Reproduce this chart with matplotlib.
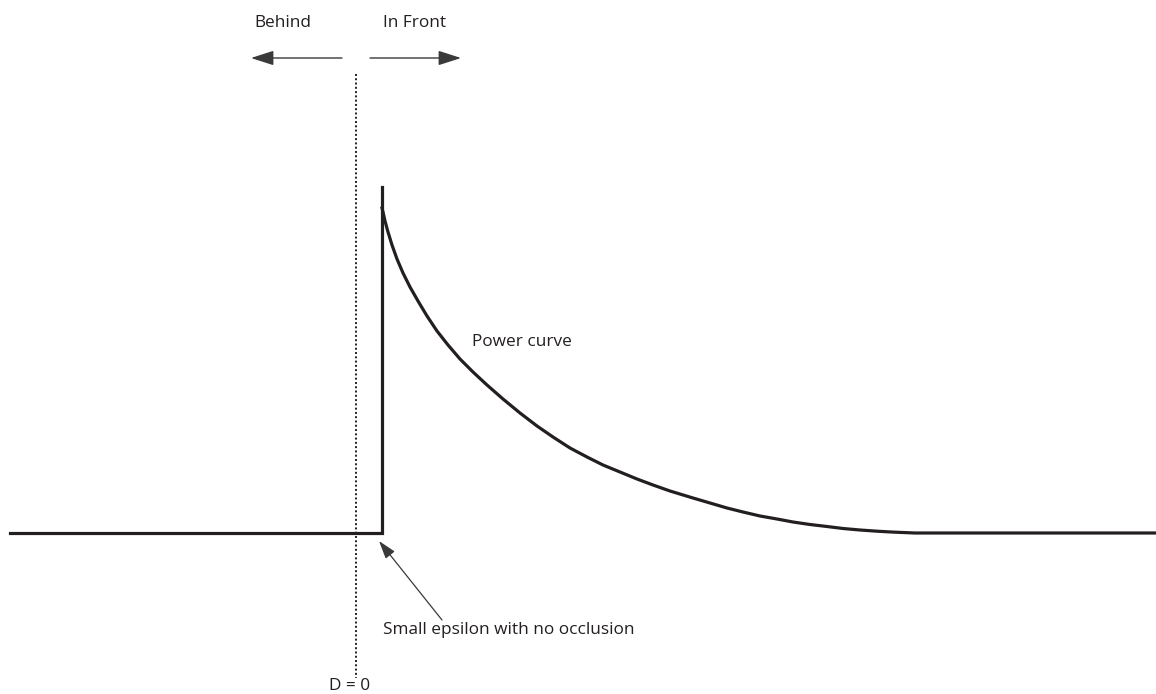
import matplotlib
matplotlib.use('Agg')
import matplotlib.pyplot as plt
from matplotlib.patches import FancyArrowPatch

# coordinates (pixel space, y down)
base_x = [10, 382]
base_y = [533, 533]
step_x = [382, 382]
step_y = [533, 187]
curve_x = [382, 383, 385, 388, 392, 397, 403, 410, 418, 427, 437, 448, 460, 473, 487,
           503, 520, 537, 553, 570, 587, 603, 620, 637, 653, 670, 693, 710, 727, 743,
           760, 777, 793, 810, 827, 843, 860, 877, 893, 915, 1156]
curve_y = [208, 212, 221, 232, 245, 259, 273, 287, 301, 316, 331, 345, 359, 372, 385,
           399, 413, 426, 437, 448, 457, 465, 472, 479, 485, 491, 498, 503, 508, 512,
           516, 519, 522, 524.5, 526.5, 528.5, 530, 531.2, 532.1, 533, 533]
d0_x = 356
d0_y = [74, 678]

plt.rcParams['font.family'] = ['Open Sans', 'DejaVu Sans']

fig = plt.figure(figsize=(11.56, 6.94), dpi=100)
ax = fig.add_axes([0, 0, 1, 1])
ax.set_xlim(0, 1156)
ax.set_ylim(694, 0)
ax.axis('off')

col = '#231f20'
lw = 2.3
ax.plot(base_x + step_x[1:], base_y + step_y[1:], color=col, lw=lw, solid_joinstyle='miter')
ax.plot(curve_x, curve_y, color=col, lw=lw, solid_joinstyle='round')
ax.plot([d0_x, d0_x], d0_y, color=col, lw=1.4, ls=(0, (1, 1.2)))

# direction arrows
for x0, x1 in [(342, 251), (370, 461)]:
    ax.add_patch(FancyArrowPatch((x0, 58), (x1, 58), arrowstyle='-|>,head_length=14,head_width=4.5',
                                 color='#3a3a3a', lw=1.0, mutation_scale=1.0, shrinkA=0, shrinkB=0))

fs = 12.4
ax.text(283, 23, 'Behind', ha='center', va='center', fontsize=fs, color=col)
ax.text(415, 23, 'In Front', ha='center', va='center', fontsize=fs, color=col)
ax.text(472, 342, 'Power curve', ha='left', va='center', fontsize=fs, color=col)
ax.text(383, 630, 'Small epsilon with no occlusion', ha='left', va='center', fontsize=fs, color=col)
ax.text(350, 686, 'D = 0', ha='center', va='center', fontsize=fs, color=col)

ax.add_patch(FancyArrowPatch((442, 620), (379, 541), arrowstyle='-|>,head_length=11,head_width=3.5',
                             color='#3a3a3a', lw=0.9, mutation_scale=1.0, shrinkA=0, shrinkB=0))

fig.savefig('out.png', dpi=100, facecolor='white')
